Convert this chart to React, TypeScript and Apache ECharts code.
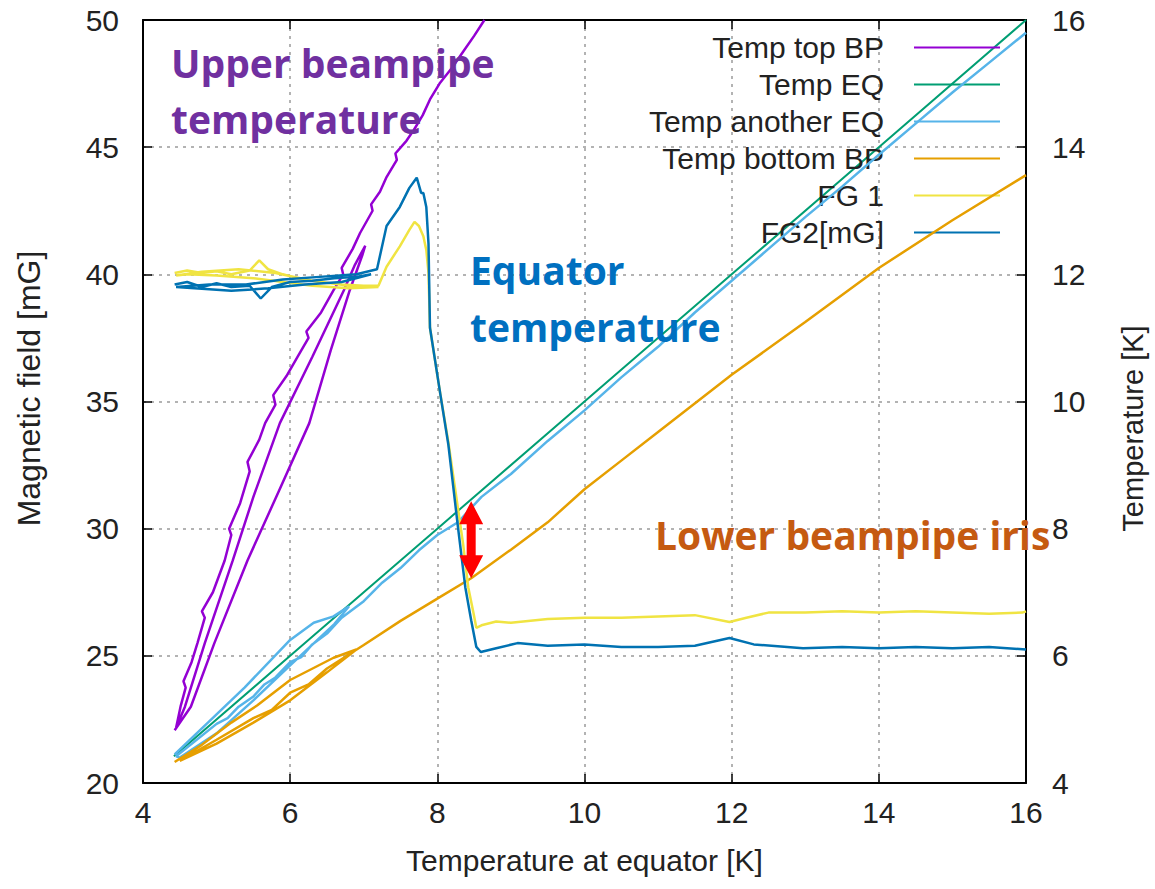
import React, { useEffect, useRef } from "react";
import * as echarts from "echarts";

// ---------- data ----------
const SERIES_NAMES = ["Temp top BP", "Temp EQ", "Temp another EQ", "Temp bottom BP", "FG 1", "FG2[mG]"];
const SERIES_COLORS = ["#9400D3", "#009E73", "#56B4E9", "#E69F00", "#F0E442", "#0072B2"];

const X_RANGE = [4, 16, 2];
const LEFT_RANGE = [20, 50, 5];
const RIGHT_RANGE = [4, 16, 2];

// Temperature series: [T equator (K), T (K)]
const tempTopBP = [
  [4.43, 4.83], [4.65, 5.2], [4.97, 6.2], [5.42, 7.5], [5.85, 8.6], [6.26, 9.66], [6.55, 10.8], [6.81, 11.75],
  [6.98, 12.3], [7.02, 12.45], [6.88, 12.15], [6.73, 11.75], [6.3, 10.7], [5.86, 9.66], [5.5, 8.5], [5.22, 7.5],
  [4.84, 6.2], [4.57, 5.2], [4.45, 4.87], [4.51, 5.2], [4.58, 5.5], [4.55, 5.6], [4.66, 5.9], [4.74, 6.2],
  [4.84, 6.6], [4.8, 6.7], [4.95, 7.0], [5.11, 7.5], [5.2, 7.9], [5.17, 8.0], [5.32, 8.4], [5.45, 8.9],
  [5.42, 9.05], [5.58, 9.4], [5.66, 9.66], [5.8, 9.95], [5.77, 10.1], [5.95, 10.4], [6.1, 10.7], [6.25, 11.0],
  [6.22, 11.1], [6.42, 11.4], [6.59, 11.75], [6.72, 12.0], [6.7, 12.1], [6.85, 12.4], [6.95, 12.65],
  [7.12, 13.0], [7.1, 13.1], [7.22, 13.3], [7.31, 13.53], [7.45, 13.8], [7.43, 13.9], [7.58, 14.1],
  [7.68, 14.27], [7.8, 14.5], [7.9, 14.75], [8.03, 15.0], [8.2, 15.25], [8.35, 15.5], [8.5, 15.75], [8.64, 16.0],
];
const tempEQ = [
  [4.42, 4.42], [6, 6], [8, 8], [10, 10], [12, 12], [14, 14], [16, 16],
];
const tempAnotherEQ = [
  [4.43, 4.45], [4.9, 4.97], [5.38, 5.5], [6.0, 6.25], [6.32, 6.52], [6.59, 6.62], [6.8, 6.78],
  [6.6, 6.5], [6.0, 5.85], [5.5, 5.3], [5.0, 4.78], [4.5, 4.4],
  [4.45, 4.42], [5.0, 4.93], [5.15, 5.02], [5.3, 5.2], [5.5, 5.36], [5.65, 5.55], [5.8, 5.66], [6.0, 5.9],
  [6.15, 5.98], [6.3, 6.18], [6.5, 6.35], [6.7, 6.6], [7.0, 6.86], [7.25, 7.15], [7.5, 7.38], [7.75, 7.66],
  [8.0, 7.9], [8.28, 8.1], [8.6, 8.5], [9.0, 8.86], [9.5, 9.38], [10.0, 9.86], [10.5, 10.38], [11.0, 10.86],
  [11.5, 11.4], [12.0, 11.9], [12.5, 12.4], [13.0, 12.9], [13.5, 13.38], [14.0, 13.88], [14.5, 14.37],
  [15.0, 14.86], [15.5, 15.33], [16.0, 15.8],
];
const tempBottomBP = [
  [4.43, 4.33], [4.8, 4.6], [5.2, 4.95], [5.55, 5.22], [6.0, 5.62], [6.59, 5.97], [6.9, 6.1],
  [6.5, 5.74], [6.0, 5.3], [5.5, 4.95], [5.0, 4.62], [4.5, 4.35],
  [5.0, 4.68], [5.5, 5.02], [5.75, 5.15], [6.0, 5.42], [6.25, 5.55], [6.5, 5.8], [7.0, 6.17], [7.5, 6.55],
  [8.0, 6.9], [8.46, 7.22], [9.0, 7.67], [9.5, 8.1], [10.0, 8.62], [10.5, 9.07], [11.0, 9.52], [12.0, 10.42],
  [13.0, 11.25], [14.0, 12.1], [15.0, 12.85], [16.0, 13.56],
];

// Magnetic field series: [T equator (K), B (mG)]
const fg1 = [
  [4.43, 40.05], [4.6, 40.15], [4.8, 40.05], [5.0, 40.12], [5.2, 40.0], [5.45, 40.15], [5.58, 40.55],
  [5.7, 40.2], [5.9, 40.0], [6.1, 39.85], [6.4, 39.7], [6.7, 39.6], [7.0, 39.55], [7.2, 39.5],
  [6.8, 39.45], [6.3, 39.55], [5.9, 39.7], [5.5, 39.85], [5.0, 39.95], [4.6, 40.0], [4.45, 39.95],
  [4.8, 40.1], [5.3, 40.2], [5.8, 40.05], [6.3, 39.75], [6.8, 39.55], [7.2, 39.55],
  [7.31, 40.3], [7.49, 41.1], [7.62, 41.75], [7.69, 42.06], [7.75, 41.9], [7.81, 41.5], [7.85, 40.96],
  [7.88, 40.05], [7.9, 37.9], [8.04, 35.3], [8.15, 33.4], [8.24, 31.6], [8.35, 29.4], [8.42, 27.7],
  [8.49, 26.7], [8.53, 26.1], [8.6, 26.2], [8.8, 26.35], [9.0, 26.3], [9.5, 26.45], [10.0, 26.5],
  [10.5, 26.5], [11.0, 26.55], [11.5, 26.6], [11.97, 26.33], [12.2, 26.5], [12.5, 26.7], [13.0, 26.7],
  [13.5, 26.75], [14.0, 26.7], [14.5, 26.75], [15.0, 26.7], [15.5, 26.65], [15.95, 26.7], [16.0, 26.75],
];
const fg2 = [
  [4.43, 39.6], [4.6, 39.7], [4.8, 39.5], [5.0, 39.65], [5.2, 39.5], [5.45, 39.55], [5.6, 39.05],
  [5.75, 39.5], [6.0, 39.7], [6.3, 39.75], [6.6, 39.85], [6.9, 39.9], [7.1, 40.0],
  [6.7, 39.7], [6.2, 39.6], [5.7, 39.45], [5.2, 39.35], [4.7, 39.45], [4.45, 39.5],
  [4.9, 39.6], [5.4, 39.6], [5.9, 39.8], [6.4, 39.9], [6.9, 40.0], [7.18, 40.2],
  [7.31, 41.9], [7.49, 42.65], [7.62, 43.4], [7.72, 43.8], [7.78, 43.2], [7.81, 43.2], [7.85, 42.65],
  [7.88, 41.2], [7.9, 37.9], [8.04, 35.3], [8.15, 33.3], [8.28, 30.07], [8.38, 27.7], [8.46, 26.4],
  [8.53, 25.35], [8.59, 25.15], [8.8, 25.3], [9.09, 25.5], [9.5, 25.4], [10.0, 25.45], [10.5, 25.35],
  [11.0, 25.35], [11.5, 25.4], [11.97, 25.7], [12.3, 25.45], [12.97, 25.3], [13.5, 25.35], [14.0, 25.3],
  [14.5, 25.35], [15.0, 25.3], [15.5, 25.35], [16.0, 25.25],
];

// Annotation: arrow between equator and lower-beampipe temperature at this equator T
const ARROW_X = 8.46;
const ARROW_TOP_T = 8.43;
const ARROW_BOTTOM_T = 7.22;

const AXIS_FONT = "'Liberation Sans', Arial, sans-serif";
const NOTE_FONT = "'Open Sans', 'Noto Sans', sans-serif";

export default function App() {
  const ref = useRef<HTMLDivElement>(null);

  useEffect(() => {
    if (!ref.current) return;
    const chart = echarts.init(ref.current, undefined, { renderer: "svg" });

    const axisLine = { show: true, onZero: false, lineStyle: { color: "#000", width: 2 } };
    const axisTick = { show: true, inside: true, length: 9, lineStyle: { color: "#000", width: 1.5 } };
    const splitLine = { show: true, lineStyle: { color: "#9a9a9a", width: 1.5, type: [3, 5] } };
    const labelStyle = { fontSize: 30, color: "#222", fontFamily: AXIS_FONT };
    const nameStyle = { fontSize: 30, color: "#222", fontFamily: AXIS_FONT };

    const seriesData = [tempTopBP, tempEQ, tempAnotherEQ, tempBottomBP, fg1, fg2];
    const series = SERIES_NAMES.map((name, i) => ({
      name,
      type: "line",
      xAxisIndex: 0,
      yAxisIndex: i < 4 ? 1 : 0,
      data: seriesData[i],
      showSymbol: false,
      symbol: "none",
      clip: true,
      lineStyle: { color: SERIES_COLORS[i], width: i === 1 ? 2 : 2.5 },
      itemStyle: { color: SERIES_COLORS[i] },
      emphasis: { disabled: true },
      z: 2 + i,
    }));

    chart.setOption({
      animation: false,
      backgroundColor: "#fff",
      grid: { left: 143, right: 125, top: 20, bottom: 106, containLabel: false },
      legend: {
        data: SERIES_NAMES,
        orient: "vertical",
        align: "right",
        right: 155,
        top: 29,
        padding: 0,
        itemGap: 0,
        itemWidth: 86,
        itemHeight: 2,
        icon: "rect",
        selectedMode: false,
        textStyle: { fontSize: 30, lineHeight: 37, color: "#222", fontFamily: AXIS_FONT, padding: [0, 25, 0, 0] },
      },
      xAxis: [
        {
          type: "value",
          position: "bottom",
          min: X_RANGE[0],
          max: X_RANGE[1],
          interval: X_RANGE[2],
          name: "Temperature at equator [K]",
          nameLocation: "middle",
          nameGap: 62,
          nameTextStyle: nameStyle,
          axisLine,
          axisTick,
          axisLabel: { ...labelStyle, margin: 14 },
          splitLine,
        },
        {
          type: "value",
          position: "top",
          min: X_RANGE[0],
          max: X_RANGE[1],
          interval: X_RANGE[2],
          axisLine,
          axisTick,
          axisLabel: { show: false },
          splitLine: { show: false },
        },
      ],
      yAxis: [
        {
          type: "value",
          position: "left",
          min: LEFT_RANGE[0],
          max: LEFT_RANGE[1],
          interval: LEFT_RANGE[2],
          name: "Magnetic field [mG]",
          nameLocation: "middle",
          nameRotate: 90,
          nameGap: 98,
          nameTextStyle: { ...nameStyle, fontSize: 32, padding: [0, 0, 0, 26] },
          axisLine,
          axisTick,
          axisLabel: { ...labelStyle, margin: 24 },
          splitLine,
        },
        {
          type: "value",
          position: "right",
          min: RIGHT_RANGE[0],
          max: RIGHT_RANGE[1],
          interval: RIGHT_RANGE[2],
          name: "Temperature [K]",
          nameLocation: "middle",
          nameRotate: 90,
          nameGap: 92,
          nameTextStyle: { ...nameStyle, fontSize: 29, padding: [0, 54, 0, 0] },
          axisLine,
          axisTick,
          axisLabel: { ...labelStyle, margin: 26 },
          splitLine: { show: false },
        },
      ],
      series,
    });

    const p1 = chart.convertToPixel({ xAxisIndex: 0, yAxisIndex: 1 }, [ARROW_X, ARROW_TOP_T]) as number[];
    const p2 = chart.convertToPixel({ xAxisIndex: 0, yAxisIndex: 1 }, [ARROW_X, ARROW_BOTTOM_T]) as number[];
    const ax = p1[0];
    const y1 = p1[1];
    const y2 = p2[1];
    const hl = 23, hw = 12, sw = 4.5;

    const note = (text: string, x: number, y: number, color: string) => ({
      type: "text",
      left: x,
      top: y,
      z: 100,
      style: {
        text,
        fill: color,
        font: `bold 39px ${NOTE_FONT}`,
        fontSize: 39,
        fontWeight: "bold",
        fontFamily: NOTE_FONT,
      },
    });

    chart.setOption({
      graphic: [
        {
          type: "polygon",
          z: 100,
          shape: {
            points: [
              [ax, y1], [ax + hw, y1 + hl], [ax + sw, y1 + hl], [ax + sw, y2 - hl], [ax + hw, y2 - hl],
              [ax, y2], [ax - hw, y2 - hl], [ax - sw, y2 - hl], [ax - sw, y1 + hl], [ax - hw, y1 + hl],
            ],
          },
          style: { fill: "#FF0000" },
        },
        note("Upper beampipe", 171, 43, "#7030A0"),
        note("temperature", 171, 99, "#7030A0"),
        note("Equator", 470, 250, "#0070C0"),
        note("temperature", 470, 307, "#0070C0"),
        note("Lower beampipe iris", 655, 515, "#C55A11"),
      ],
    });

    return () => chart.dispose();
  }, []);

  return (
    <div
      ref={ref}
      style={{ position: "absolute", left: 0, top: 0, width: 1155, height: 889, background: "#fff" }}
    />
  );
}
